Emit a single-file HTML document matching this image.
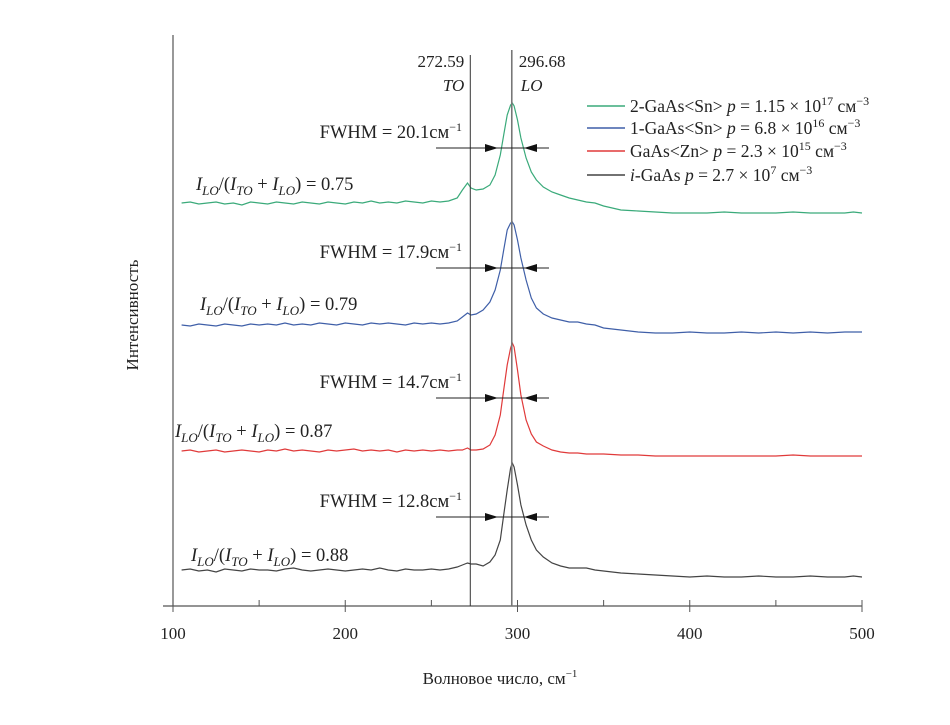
<!DOCTYPE html>
<html><head><meta charset="utf-8">
<style>
html,body{margin:0;padding:0;background:#fff;}
svg text{font-family:"Liberation Serif",serif;fill:#222;}
</style></head>
<body>
<svg id="chart" width="950" height="720" viewBox="0 0 950 720" xmlns="http://www.w3.org/2000/svg">
<g id="axes"></g>
<g id="series"></g>
<g id="annot"></g>
<text x="0" y="0" font-size="17" text-anchor="middle" transform="translate(138,315) rotate(-90)">Интенсивность</text>
<text x="500" y="684" font-size="17" text-anchor="middle">Волновое число, см<tspan font-size="11" dy="-7">−1</tspan></text>
<g font-size="17.5">
 <g><line x1="587" x2="625" y1="106" y2="106" stroke="#3aaa7a" stroke-width="1.5"/><text x="630" y="112">2-GaAs&lt;Sn&gt; <tspan font-style="italic">p</tspan> = 1.15 × 10<tspan font-size="12" dy="-7">17</tspan><tspan dy="7"> см</tspan><tspan font-size="12" dy="-7">−3</tspan></text></g>
 <g><line x1="587" x2="625" y1="128" y2="128" stroke="#3f5fa8" stroke-width="1.5"/><text x="630" y="134">1-GaAs&lt;Sn&gt; <tspan font-style="italic">p</tspan> = 6.8 × 10<tspan font-size="12" dy="-7">16</tspan><tspan dy="7"> см</tspan><tspan font-size="12" dy="-7">−3</tspan></text></g>
 <g><line x1="587" x2="625" y1="151" y2="151" stroke="#e03a3a" stroke-width="1.5"/><text x="630" y="157">GaAs&lt;Zn&gt; <tspan font-style="italic">p</tspan> = 2.3 × 10<tspan font-size="12" dy="-7">15</tspan><tspan dy="7"> см</tspan><tspan font-size="12" dy="-7">−3</tspan></text></g>
 <g><line x1="587" x2="625" y1="175" y2="175" stroke="#444" stroke-width="1.5"/><text x="630" y="181"><tspan font-style="italic">i</tspan>-GaAs <tspan font-style="italic">p</tspan> = 2.7 × 10<tspan font-size="12" dy="-7">7</tspan><tspan dy="7"> см</tspan><tspan font-size="12" dy="-7">−3</tspan></text></g>
</g>
</svg>
<script>
const wavenumbers=[105,110,115,120,125,130,135,140,145,150,155,160,165,170,175,180,185,190,195,200,205,210,215,220,225,230,235,240,245,250,255,260,265,268,271,273,276,280,284,287,290,292,294,296,297,298,300,302,305,308,311,315,320,325,330,335,340,345,350,360,370,380,390,400,410,420,430,440,450,460,470,480,490,495,500];
const blackVals=[50,51,49,50,48,51,50,49,51,50,50,49,51,52,50,49,50,51,50,49,50,51,50,52,50,49,51,50,50,51,50,51,53,55,57,56,56,54,58,65,80,105,130,152,157,153,135,115,95,80,70,63,57,54,52,52,52,50,49,47,46,45,44,43,44,43,43,44,43,43,44,43,43,44,43];
const redVals=[169,170,168,169,170,168,169,170,169,168,170,169,171,169,170,169,168,170,169,170,171,169,170,169,170,168,170,169,170,169,170,169,170,170,172,170,170,171,175,185,205,230,255,272,277,273,250,225,200,186,178,174,170,168,167,167,166,166,166,165,165,164,164,164,164,164,164,164,164,165,164,164,164,164,164];
const blueVals=[295,294,296,295,294,296,295,294,296,295,296,295,297,295,296,295,297,296,295,297,296,295,297,296,297,296,295,297,296,297,296,297,299,303,307,305,306,310,318,330,350,370,390,397,398,395,380,362,340,322,312,306,302,300,298,298,296,295,292,290,288,287,287,288,287,287,288,287,288,287,288,287,288,288,288];
const greenVals=[417,418,416,417,418,416,417,415,418,417,416,418,417,416,418,417,416,418,417,416,418,417,419,417,418,417,419,418,417,419,418,419,422,430,437,432,430,431,435,445,465,485,505,515,517,514,500,482,462,448,440,433,428,425,422,420,418,417,414,410,409,408,407,407,407,408,407,407,407,408,407,407,407,408,407];
const seriesColors=['#444','#e03a3a','#3f5fa8','#3aaa7a'];
const seriesNames=['series-i-gaas','series-gaas-zn','series-1-gaas-sn','series-2-gaas-sn'];
const xTicks=[100,200,300,400,500];
const xMinorTicks=[150,250,350,450];
const peakPositions=[272.59,296.68];
const fwhmLabels=['12.8','14.7','17.9','20.1'];
const ratioLabels=['0.88','0.87','0.79','0.75'];

const NS='http://www.w3.org/2000/svg';
function xs(v){return 173+(v-100)*(862-173)/400;}
function ys(v){return 620-v;}
function mk(tag,attrs,parent){const e=document.createElementNS(NS,tag);for(const k in attrs)e.setAttribute(k,attrs[k]);parent.appendChild(e);return e;}
const axes=document.getElementById('axes');
let e=mk('line',{x1:173,x2:173,y1:35,y2:606,stroke:'#555','stroke-width':1.2},axes);


e=mk('line',{x1:163,x2:862,y1:606,y2:606,stroke:'#555','stroke-width':1.2},axes);


xTicks.forEach(t=>{
 let l=mk('line',{x1:xs(t),x2:xs(t),y1:600,y2:612,stroke:'#555'},axes);
 
 
 let tx=mk('text',{x:xs(t),y:639,'font-size':17,'text-anchor':'middle'},axes);
 tx.textContent=t;
 
 
});
xMinorTicks.forEach(t=>{
 let l=mk('line',{x1:xs(t),x2:xs(t),y1:600,y2:606,stroke:'#555'},axes);
 
 
});
const ser=document.getElementById('series');
[blackVals,redVals,blueVals,greenVals].forEach((vals,i)=>{
 const d=vals.map((v,j)=>(j?'L':'M')+xs(wavenumbers[j]).toFixed(1)+','+ys(v).toFixed(1)).join(' ');
 const p=mk('path',{d:d,fill:'none',stroke:seriesColors[i],'stroke-width':1.2},ser);
 
 
});
const an=document.getElementById('annot');
peakPositions.forEach((pk,i)=>{
 const l=mk('line',{x1:xs(pk),x2:xs(pk),y1:i?50:55,y2:606,stroke:i?'#777':'#333','stroke-width':i?1.6:1},an);
 
 
});
let t=mk('text',{x:xs(peakPositions[0])-6,y:67,'font-size':17,'text-anchor':'end'},an);t.textContent=peakPositions[0];


t=mk('text',{x:xs(peakPositions[0])-6,y:91,'font-size':17,'text-anchor':'end','font-style':'italic'},an);t.textContent='TO';


t=mk('text',{x:xs(peakPositions[1])+7,y:67,'font-size':17},an);t.textContent=peakPositions[1];


t=mk('text',{x:xs(peakPositions[1])+9,y:91,'font-size':17,'font-style':'italic'},an);t.textContent='LO';


const arrowY=[517,398,268,148];
const ratioPos=[[191,561],[175,437],[200,310],[196,190]];
fwhmLabels.forEach((f,i)=>{
 const y=arrowY[i];
 const g=mk('g',{},an);
 
 
 mk('line',{x1:436,x2:549,y1:y,y2:y,stroke:'#222'},g);
 mk('polygon',{points:`498,${y} 485,${y-4} 485,${y+4}`,fill:'#111'},g);
 mk('polygon',{points:`524,${y} 537,${y-4} 537,${y+4}`,fill:'#111'},g);
 const tx=mk('text',{x:462,y:y-10,'font-size':18.5,'text-anchor':'end'},an);
 tx.innerHTML='FWHM = '+f+'см<tspan font-size="12" dy="-7">−1</tspan>';
 
 
 const r=mk('text',{x:ratioPos[i][0],y:ratioPos[i][1],'font-size':18.5},an);
 r.innerHTML='<tspan font-style="italic">I</tspan><tspan font-style="italic" font-size="13" dy="5">LO</tspan><tspan dy="-5">/(</tspan><tspan font-style="italic">I</tspan><tspan font-style="italic" font-size="13" dy="5">TO</tspan><tspan dy="-5"> + </tspan><tspan font-style="italic">I</tspan><tspan font-style="italic" font-size="13" dy="5">LO</tspan><tspan dy="-5">) = '+ratioLabels[i]+'</tspan>';
 
 
});
</script>
</body></html>
